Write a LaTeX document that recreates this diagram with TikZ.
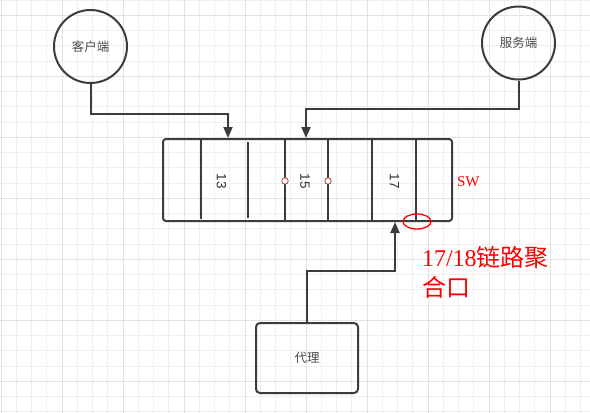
\documentclass[tikz,border=0pt]{standalone}
\usepackage{xcolor}
\usepackage{fontspec}
\setmainfont{Liberation Serif}
\setsansfont{Liberation Sans}
\newfontfamily\cjk{Noto Sans CJK SC}
\usetikzlibrary{arrows.meta}

\definecolor{linegray}{HTML}{3C3C3C}
\definecolor{gridminor}{HTML}{EFEFEF}
\definecolor{gridmajor}{HTML}{E2E2E2}
\definecolor{markred}{HTML}{FF0000}
\definecolor{portred}{HTML}{B03A3A}

\begin{document}
\begin{tikzpicture}[x=1pt, y=-1pt,
    every path/.style={line width=2pt, draw=linegray},
    endpoint/.style={circle, draw, line width=2pt, minimum size=73pt, inner sep=0pt,
      font=\cjk\fontsize{12.5}{14}\selectfont, text=black!70},
    link/.style={-{Triangle[length=11pt, width=9pt]}, line width=2pt, draw=linegray},
    port/.style={circle, draw=portred, fill=white, line width=0.8pt, minimum size=6.5pt, inner sep=0pt},
    portnum/.style={rotate=-90, font=\sffamily\fontsize{13.5}{15}\selectfont, text=black!80}]
  \useasboundingbox[fill=white, draw=none] (0,0) rectangle (590,413);
  % background grid
  \foreach \i in {0,...,38}
    \draw[gridminor, line width=1pt] ({1+15.25*\i},0) -- ({1+15.25*\i},413);
  \foreach \i in {0,...,27}
    \draw[gridminor, line width=1pt] (0,{15.25*\i}) -- (590,{15.25*\i});
  \foreach \i in {0,...,9}
    \draw[gridmajor, line width=1pt] ({1+61*\i},0) -- ({1+61*\i},413);
  \foreach \i in {0,...,6}
    \draw[gridmajor, line width=1pt] (0,{15.25+61*\i}) -- (590,{15.25+61*\i});

  \node[endpoint] (client) at (90.5,46.5) {客户端};
  \node[endpoint] (server) at (518.5,43) {服务端};

  % switch
  \node[draw, rounded corners=3pt, minimum width=289pt, minimum height=82pt] (sw) at (307.5,180) {};
  \draw (201,139) -- (201,219);
  \draw (248,142) -- (248,218);
  \foreach \x in {285,328,372,416}
    \draw (\x,139) -- (\x,221);
  \node[portnum] (p13) at (221.5,181) {13};
  \node[portnum] (p15) at (305,181) {15};
  \node[portnum] (p17) at (394.5,181) {17};
  \node[port] (port1) at (285,181) {};
  \node[port] (port2) at (328,181) {};
  \draw[markred, line width=1.3pt] (417,221.5) ellipse (14 and 7.5);
  \node[anchor=west, text=markred, font=\fontsize{15}{17}\selectfont, inner sep=0pt] (swname) at (456,182) {SW};
  \node[anchor=base west, text=markred, font=\fontsize{24}{28}\selectfont, inner sep=0pt] (lag1) at (421,266) {17/18{\cjk 链路聚}};
  \node[anchor=base west, text=markred, font=\cjk\fontsize{24}{28}\selectfont, inner sep=0pt] (lag2) at (421,296) {合口};

  \node[draw, rounded corners=4pt, minimum width=102pt, minimum height=70pt,
    font=\cjk\fontsize{12.5}{14}\selectfont, text=black!70] (proxy) at (307,358) {代理};

  \draw[link] (client.south) -- ++(0,30) -| ([xshift=-79.5pt]sw.north);
  \draw[link] (server.south) -- ++(0,28) -| ([xshift=-1.5pt]sw.north);
  \draw[link] (proxy.north) -- ++(0,-51) -| ([xshift=87.5pt]sw.south);
\end{tikzpicture}
\end{document}
